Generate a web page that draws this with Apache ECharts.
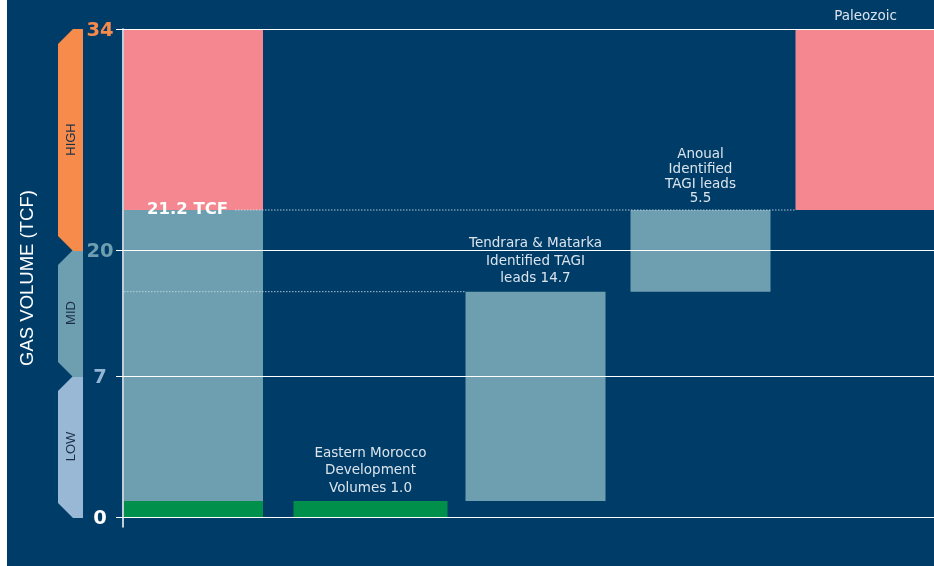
<!DOCTYPE html>
<html><head><meta charset="utf-8">
<script src="https://cdn.jsdelivr.net/npm/echarts@6/dist/echarts.min.js"></script>
<style>html,body{margin:0;padding:0;background:#fff}#c{width:934px;height:566px}</style>
</head><body><div id="c"></div>
<script>
// ---- data ----
const categories = ['Eastern Morocco Total', 'Eastern Morocco Development', 'Tendrara & Matarka', 'Anoual', 'Paleozoic'];
const baseVolume = [0, 0, 1.0, 15.7, 21.2];
const developmentVolume = [1.0, 1.0, 0, 0, 0];
const tagiVolume = [20.2, 0, 14.7, 5.5, 0];
const paleozoicVolume = [12.8, 0, 0, 0, 12.8];
const barLabels = ['', 'Eastern Morocco\nDevelopment\nVolumes 1.0', 'Tendrara & Matarka\nIdentified TAGI\nleads 14.7', 'Anoual\nIdentified\nTAGI leads\n5.5', 'Paleozoic'];
const totalLabel = '21.2 TCF';
const totalValue = 21.2;
const yTickValues = [0, 7, 20, 34];
const yTickLabels = ['0', '7', '20', '34'];
const bandNames = ['LOW', 'MID', 'HIGH'];
const bandEdges = [0, 7, 20, 34];

// ---- schematic (piecewise) scale of the original chart ----
const scaleKnots = [0, 1, 7, 20, 21.2, 34];
const scaleDisplay = [0, 16, 141, 267, 307, 488];
function D(v) {
  for (let i = 1; i < scaleKnots.length; i++) {
    if (v <= scaleKnots[i] || i === scaleKnots.length - 1) {
      const a = scaleKnots[i - 1], b = scaleKnots[i];
      const t = (v - a) / (b - a);
      return scaleDisplay[i - 1] + t * (scaleDisplay[i] - scaleDisplay[i - 1]);
    }
  }
}

// ---- styles ----
const NAVY = '#003c68';
const COLORS = { dev: '#00904b', tagi: '#6d9fb0', paleo: '#f4878f' };
const BAR_WIDTH = [139, 154, 140, 140, 140];
const BAR_FLUSH_LEFT = [true, false, false, false, false];
const LABEL_LINE_HEIGHT = [18, 17.5, 17.5, 14.6, 17.5];
const TICK_COLORS = ['#ffffff', '#93b4d3', '#6d9fb0', '#f68b4c'];
const BAND_COLORS = ['#98b8d6', '#6d9fb0', '#f68b4c'];

// build segments
const segs = [];
categories.forEach((c, i) => {
  let lo = baseVolume[i];
  [['dev', developmentVolume], ['tagi', tagiVolume], ['paleo', paleozoicVolume]].forEach(([k, arr]) => {
    if (arr[i] > 0) {
      const hi = lo + arr[i];
      segs.push({ value: [i, D(lo), D(hi)], kind: k });
      lo = hi;
    }
  });
});
const tops = categories.map((c, i) => [i, D(baseVolume[i] + developmentVolume[i] + tagiVolume[i] + paleozoicVolume[i])]);
const connectors = [
  { value: [0, 4, D(baseVolume[4])], startOffset: 111 },
  { value: [0, 2, D(baseVolume[3])], startOffset: 0 }
];
const bands = bandNames.map((n, i) => ({ value: [0, D(bandEdges[i]), D(bandEdges[i + 1])], name: n }));
const tickDisplay = yTickValues.map(D);

function barRect(api, cat, lo, hi) {
  const pLo = api.coord([cat, lo]);
  const pHi = api.coord([cat, hi]);
  const band = api.size([1, 0])[0];
  const w = BAR_WIDTH[cat];
  const x = BAR_FLUSH_LEFT[cat] ? pLo[0] - band / 2 + 1 : pLo[0] - w / 2;
  return { x: x, y: pHi[1], width: w, height: pLo[1] - pHi[1], cx: pLo[0] };
}

const chart = echarts.init(document.getElementById('c'));
chart.setOption({
  animation: false,
  backgroundColor: NAVY,
  graphic: [{ type: 'rect', left: 0, top: 0, shape: { width: 7, height: 566 }, style: { fill: '#ffffff' }, z: 100 }],
  grid: { left: 123, width: 825, top: 29, bottom: 39, containLabel: false, outerBoundsMode: 'none' },
  xAxis: {
    type: 'category', data: categories,
    axisLine: { show: false }, axisTick: { show: false }, axisLabel: { show: false }, splitLine: { show: false }
  },
  yAxis: {
    type: 'value', min: -10, max: 488,
    name: 'GAS VOLUME (TCF)', nameLocation: 'middle', nameGap: 86,
    nameTextStyle: { color: '#ffffff', fontSize: 18.5, fontFamily: 'Liberation Sans' },
    axisLine: { show: true, lineStyle: { color: '#ffffff', width: 1.5 } },
    axisTick: { show: true, customValues: tickDisplay, length: 7, lineStyle: { color: '#ffffff', width: 1 } },
    axisLabel: {
      customValues: tickDisplay, margin: 23, align: 'center',
      formatter: function (v) {
        for (let i = 0; i < tickDisplay.length; i++) if (Math.abs(tickDisplay[i] - v) < 0.01) return '{t' + i + '|' + yTickLabels[i] + '}';
        return '';
      },
      rich: Object.fromEntries(TICK_COLORS.map((c, i) => ['t' + i, { color: c, fontSize: 19.5, fontWeight: 'bold', fontFamily: 'DejaVu Sans', padding: [4, 0, 0, 0] }]))
    },
    splitLine: { show: false }
  },
  series: [
    {
      type: 'custom', name: 'bands', z: 3,
      data: bands,
      renderItem: function (params, api) {
        const lo = api.value(1), hi = api.value(2);
        const yTop = api.coord([0, hi])[1];
        const yBot = api.coord([0, lo])[1];
        const ax = api.coord([0, 0])[0] - api.size([1, 0])[0] / 2;
        const xR = ax - 40, xL = ax - 65, c = 14;
        const d = bands[params.dataIndex];
        return {
          type: 'group', children: [
            { type: 'polygon', shape: { points: [[xR, yTop], [xL + c + 1, yTop], [xL, yTop + c + 1], [xL, yBot - c], [xL + c + 1, yBot + 1], [xR, yBot + 1]] }, style: { fill: BAND_COLORS[params.dataIndex] } },
            { type: 'text', x: (xL + xR) / 2 + 1, y: (yTop + yBot) / 2, rotation: Math.PI / 2,
              style: { text: d.name, fill: '#1b2f47', fontSize: 13, fontFamily: 'Liberation Sans', align: 'center', verticalAlign: 'middle' } }
          ]
        };
      }
    },
    {
      type: 'custom', name: 'bars', z: 4,
      data: segs,
      renderItem: function (params, api) {
        const r = barRect(api, api.value(0), api.value(1), api.value(2));
        return { type: 'rect', shape: { x: r.x, y: r.y, width: r.width, height: r.height }, style: { fill: COLORS[segs[params.dataIndex].kind] } };
      }
    },
    {
      type: 'custom', name: 'connectors', z: 6,
      data: connectors,
      renderItem: function (params, api) {
        const from = api.value(0), to = api.value(1), lv = api.value(2);
        const a = barRect(api, from, 0, lv);
        const b = barRect(api, to, 0, lv);
        const y = api.coord([from, lv])[1];
        const x1 = a.x + connectors[params.dataIndex].startOffset;
        return { type: 'line', shape: { x1: x1, y1: y, x2: b.x, y2: y }, style: { stroke: 'rgba(205,220,232,0.85)', lineWidth: 1, lineDash: [1.5, 1.5] } };
      },
      markLine: {
        silent: true, symbol: 'none', label: { show: false },
        lineStyle: { color: '#ffffff', width: 1.2, type: 'solid' },
        data: tickDisplay.map(v => ({ yAxis: v }))
      }
    },
    {
      type: 'custom', name: 'labels', z: 7,
      data: tops,
      renderItem: function (params, api) {
        const i = api.value(0);
        const top = api.value(1);
        const r = barRect(api, i, 0, top);
        const children = [];
        if (barLabels[i]) {
          children.push({ type: 'text', x: r.x + r.width / 2, y: r.y - 4,
            style: { text: barLabels[i], fill: '#dbe4ec', fontSize: 13.5, lineHeight: LABEL_LINE_HEIGHT[i], fontFamily: 'DejaVu Sans', align: 'center', verticalAlign: 'bottom' } });
        }
        if (i === 0) {
          const yT = api.coord([0, D(totalValue)])[1];
          children.push({ type: 'text', x: r.x + 23, y: yT,
            style: { text: totalLabel, fill: '#ffffff', fontSize: 16.5, fontWeight: 'bold', fontFamily: 'DejaVu Sans', align: 'left', verticalAlign: 'middle' } });
        }
        return { type: 'group', children: children };
      }
    }
  ]
});
</script></body></html>
